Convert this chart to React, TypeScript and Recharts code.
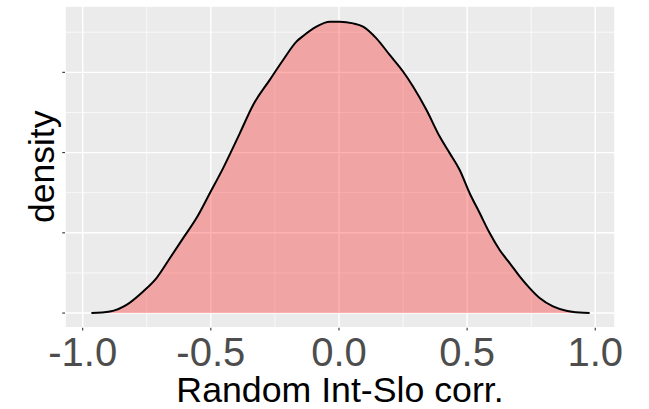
import { ComposedChart, Area, XAxis, YAxis, CartesianGrid } from 'recharts';

// density estimate
const corr = [
  -0.966, -0.894, -0.829, -0.764, -0.712, -0.66, -0.608, -0.556, -0.504, -0.452, -0.387,
  -0.335, -0.27, -0.218, -0.166, -0.14, -0.088, -0.036, 0.003, 0.055, 0.094, 0.146,
  0.198, 0.25, 0.289, 0.341, 0.393, 0.432, 0.471, 0.51, 0.549, 0.588, 0.627, 0.666,
  0.705, 0.744, 0.783, 0.835, 0.887, 0.939, 0.978,
];
const density = [
  0, 0.006, 0.031, 0.081, 0.131, 0.205, 0.28, 0.355, 0.448, 0.542, 0.672,
  0.778, 0.872, 0.946, 1.015, 1.036, 1.071, 1.089, 1.089, 1.083, 1.071, 1.027,
  0.965, 0.903, 0.847, 0.76, 0.66, 0.598, 0.535, 0.448, 0.374, 0.299, 0.236, 0.187,
  0.137, 0.093, 0.056, 0.025, 0.009, 0.002, 0,
];

const xTicks = [-1, -0.5, 0, 0.5, 1];
const xMinor = [-0.75, -0.25, 0.25, 0.75];
const yTicks = [0, 0.3, 0.6, 0.9];
const yMinor = [0.15, 0.45, 0.75, 1.05];

const data = corr.map((x, i) => ({ x, density: density[i] }));

const FONT = '"Liberation Sans", Arial, sans-serif';
const xDomain = [-1.069, 1.077];
const yDomain = [-0.0547, 1.148];

const YTitle = (props: any) => {
  const { viewBox } = props;
  const x = viewBox.x + 54;
  const y = viewBox.y + viewBox.height / 2;
  return (
    <text x={x} y={y} transform={`rotate(-90, ${x}, ${y})`} textAnchor="middle"
      fontSize={35.5} fill="#000" fontFamily={FONT}>density</text>
  );
};

export default function App() {
  return (
    <div style={{ position: 'absolute', left: 0, top: 0, fontFamily: FONT }}>
      <ComposedChart width={649} height={409} data={data} margin={{ top: 6, right: 34, left: 0, bottom: 0 }}>
        <CartesianGrid xAxisId="major" yAxisId="major" fill="#EBEBEB" stroke="#FFFFFF" strokeWidth={1.4} />
        <CartesianGrid xAxisId="minor" yAxisId="minor" stroke="#FFFFFF" strokeWidth={0.7} />
        <XAxis xAxisId="minor" dataKey="x" type="number" domain={xDomain} ticks={xMinor}
          allowDataOverflow hide height={81.3} />
        <YAxis yAxisId="minor" type="number" domain={yDomain} ticks={yMinor} allowDataOverflow hide width={65} />
        <XAxis xAxisId="major" dataKey="x" type="number" domain={xDomain} ticks={xTicks}
          allowDataOverflow height={81.3} axisLine={false} tickSize={2.75} tickMargin={6.8}
          tickLine={{ stroke: '#333333', strokeWidth: 1.1 }}
          tickFormatter={(v: number) => v.toFixed(1)}
          tick={{ fontSize: 40, fill: '#4D4D4D', fontFamily: FONT }}
          label={{ value: 'Random Int-Slo corr.', position: 'insideBottom', offset: 7, fontSize: 35.7, fill: '#000', fontFamily: FONT }} />
        <YAxis yAxisId="major" type="number" domain={yDomain} ticks={yTicks} allowDataOverflow width={65}
          axisLine={false} tickSize={2.75} tickLine={{ stroke: '#333333', strokeWidth: 1.1 }}
          tick={() => <g />} label={<YTitle />} />
        <Area xAxisId="major" yAxisId="major" type="monotone" dataKey="density" baseValue={0}
          stroke="#000000" strokeWidth={2} fill="#FF0000" fillOpacity={0.3} isAnimationActive={false} />
      </ComposedChart>
    </div>
  );
}
